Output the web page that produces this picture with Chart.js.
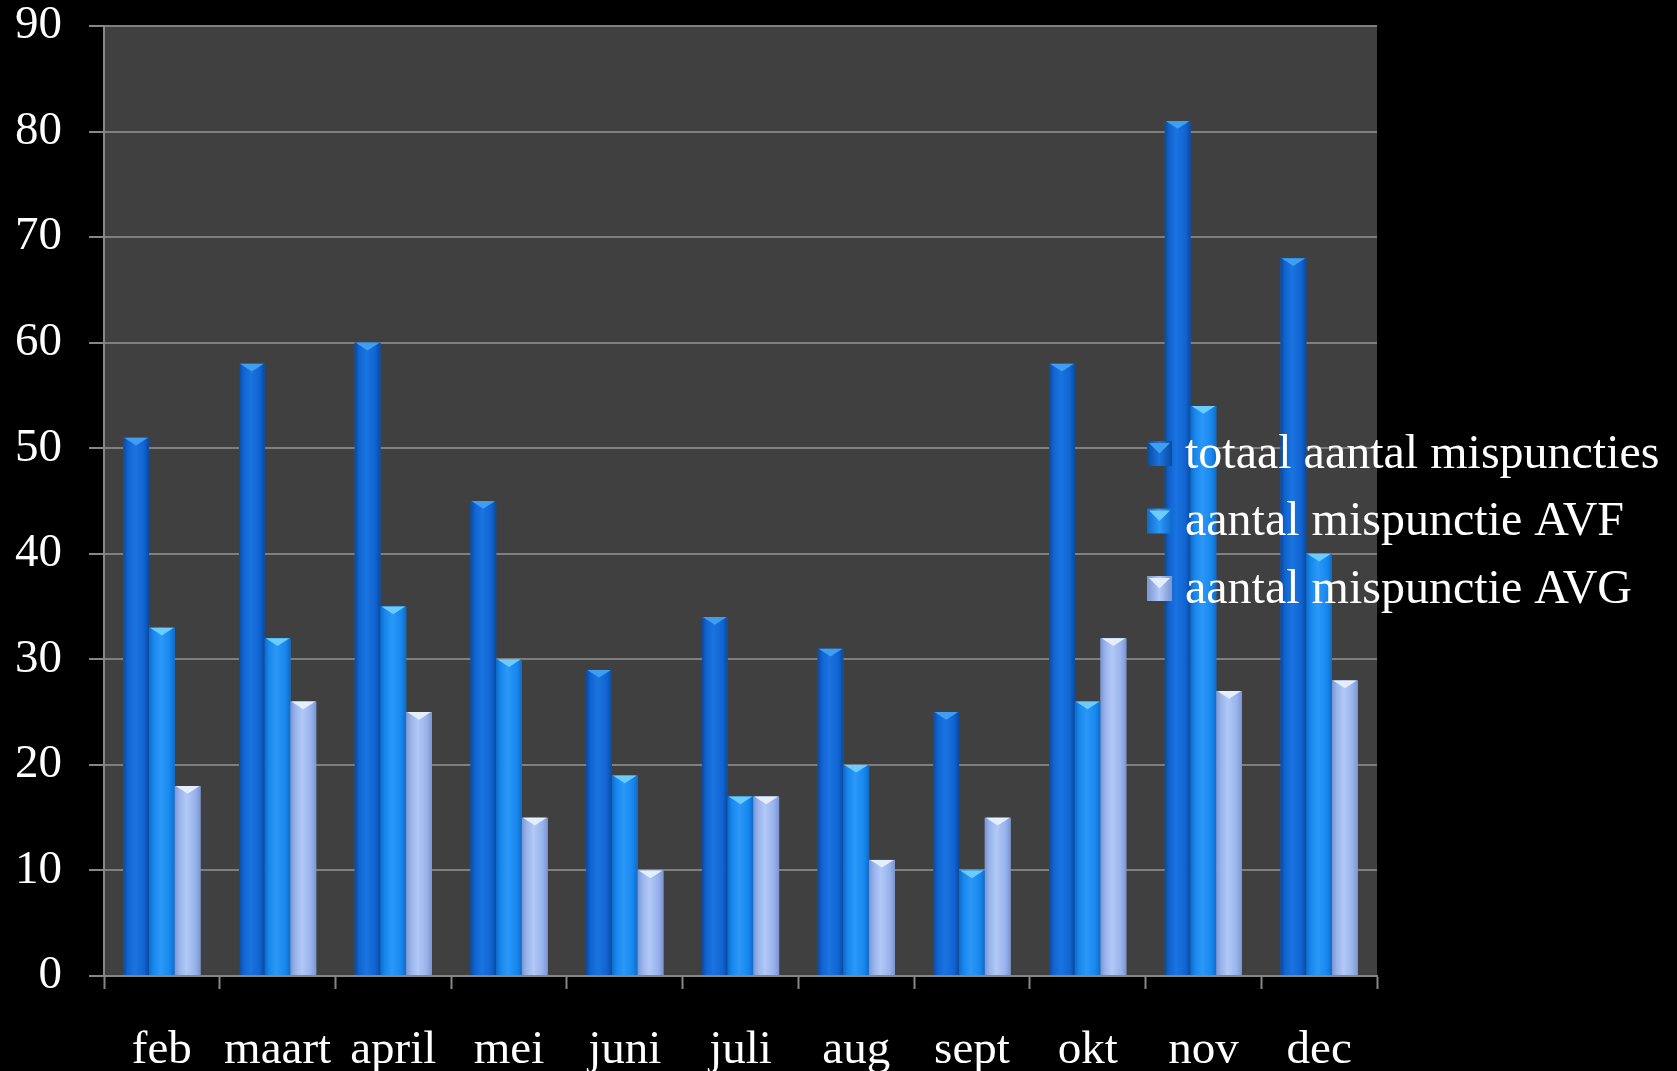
<!DOCTYPE html>
<html>
<head>
<meta charset="utf-8">
<script src="https://cdn.jsdelivr.net/npm/chart.js@4.4.1/dist/chart.umd.min.js"></script>
<style>
    html, body { margin: 0; padding: 0; background: #000; }
    #wrap { width: 1677px; height: 1071px; position: relative; }
</style>
</head>
<body>
<div id="wrap"><canvas id="mispunctieChart"></canvas></div>
<script>
    // Maanden en aantallen mispuncties
    const maanden = ['feb', 'maart', 'april', 'mei', 'juni', 'juli', 'aug', 'sept', 'okt', 'nov', 'dec'];
    const totaal = [51, 58, 60, 45, 29, 34, 31, 25, 58, 81, 68];
    const avf = [33, 32, 35, 30, 19, 17, 20, 10, 26, 54, 40];
    const avg = [18, 26, 25, 15, 10, 17, 11, 15, 32, 27, 28];
    const yTicks = [0, 10, 20, 30, 40, 50, 60, 70, 80, 90];

    // kleuren per reeks: rand, midden, licht, kapje bovenop
    const tinten = [
        { edge: '#0a4a9e', mid: '#1164d2', light: '#1a74e0', cap: '#3f9ef0' },
        { edge: '#0e6cc9', mid: '#1888ee', light: '#2b98f8', cap: '#6cccff' },
        { edge: '#7a95d0', mid: '#98b3ec', light: '#b2c9f6', cap: '#e4eeff' }
    ];

    const serif = 'Liberation Serif, Times New Roman, serif';

    const shading = {
        id: 'shading',
        beforeDraw(chart) {
            const a = chart.chartArea;
            const ctx = chart.ctx;
            ctx.save();
            ctx.fillStyle = '#404040';
            ctx.fillRect(a.left, a.top, a.right - a.left, a.bottom - a.top);
            ctx.restore();
        },
        afterDatasetsDraw(chart) {
            const ctx = chart.ctx;
            chart.data.datasets.forEach((ds, i) => {
                const t = tinten[i];
                chart.getDatasetMeta(i).data.forEach(bar => {
                    const w = bar.width;
                    const left = bar.x - w / 2;
                    const h = bar.base - bar.y;
                    const g = ctx.createLinearGradient(left, 0, left + w, 0);
                    g.addColorStop(0, t.edge);
                    g.addColorStop(0.18, t.mid);
                    g.addColorStop(0.45, t.light);
                    g.addColorStop(0.8, t.mid);
                    g.addColorStop(1, t.edge);
                    ctx.save();
                    ctx.fillStyle = g;
                    ctx.fillRect(left, bar.y, w, h);
                    // kapje bovenop de staaf
                    const ch = Math.min(w * 0.3, h);
                    ctx.fillStyle = t.cap;
                    ctx.beginPath();
                    ctx.moveTo(left + 1, bar.y);
                    ctx.lineTo(left + w - 1, bar.y);
                    ctx.lineTo(bar.x, bar.y + ch);
                    ctx.closePath();
                    ctx.fill();
                    ctx.restore();
                });
            });
        },
        afterDraw(chart) {
            // legenda rechts, over het plotvlak heen
            const ctx = chart.ctx;
            ctx.save();
            ctx.font = '48px ' + serif;
            ctx.textBaseline = 'middle';
            chart.data.datasets.forEach((ds, i) => {
                const t = tinten[i];
                const cy = 453 + i * 67.5;
                const bx = 1147, by = cy - 12, s = 25;
                const g = ctx.createLinearGradient(bx, 0, bx + s, 0);
                g.addColorStop(0, t.edge);
                g.addColorStop(0.5, t.light);
                g.addColorStop(1, t.edge);
                ctx.fillStyle = g;
                ctx.fillRect(bx, by, s, s);
                ctx.fillStyle = t.cap;
                ctx.beginPath();
                ctx.moveTo(bx + 2, by + 2);
                ctx.lineTo(bx + s - 2, by + 2);
                ctx.lineTo(bx + s / 2, by + s / 2);
                ctx.closePath();
                ctx.fill();
                ctx.fillStyle = '#ffffff';
                ctx.fillText(ds.label, 1185, cy + 2);
            });
            ctx.restore();
        }
    };

    const ctx = document.getElementById('mispunctieChart').getContext('2d');
    new Chart(ctx, {
        type: 'bar',
        data: {
            labels: maanden,
            datasets: [
                { label: 'totaal aantal mispuncties', data: totaal, backgroundColor: tinten[0].mid, borderWidth: 0 },
                { label: 'aantal mispunctie AVF', data: avf, backgroundColor: tinten[1].mid, borderWidth: 0 },
                { label: 'aantal mispunctie AVG', data: avg, backgroundColor: tinten[2].mid, borderWidth: 0 }
            ]
        },
        options: {
            responsive: true,
            maintainAspectRatio: false,
            animation: false,
            layout: { padding: { top: 0, right: 300, left: 0, bottom: 0 } },
            datasets: { bar: { categoryPercentage: 0.667, barPercentage: 1.0 } },
            plugins: {
                legend: { display: false },
                tooltip: { enabled: false }
            },
            scales: {
                x: {
                    grid: {
                        drawOnChartArea: false,
                        drawTicks: true,
                        tickLength: 13,
                        tickWidth: 2,
                        tickColor: '#868686'
                    },
                    border: { color: '#868686', width: 2 },
                    ticks: {
                        color: '#ffffff',
                        padding: 33,
                        maxRotation: 0,
                        autoSkip: false,
                        font: { family: serif, size: 47 }
                    },
                    afterFit(scale) {
                        scale.height = 95;
                        scale.paddingLeft = 0;
                        scale.paddingRight = 0;
                    }
                },
                y: {
                    min: 0,
                    max: 90,
                    afterBuildTicks(scale) { scale.ticks = yTicks.map(v => ({ value: v })); },
                    grid: {
                        color: '#7f7f7f',
                        lineWidth: 2,
                        tickLength: 15,
                        tickColor: '#868686'
                    },
                    border: { color: '#868686', width: 2 },
                    ticks: {
                        color: '#ffffff',
                        padding: 27,
                        font: { family: serif, size: 47 }
                    },
                    afterFit(scale) {
                        scale.width = 104;
                        scale.paddingTop = 26;
                        scale.paddingBottom = 0;
                    }
                }
            }
        },
        plugins: [shading]
    });
</script>
</body>
</html>
